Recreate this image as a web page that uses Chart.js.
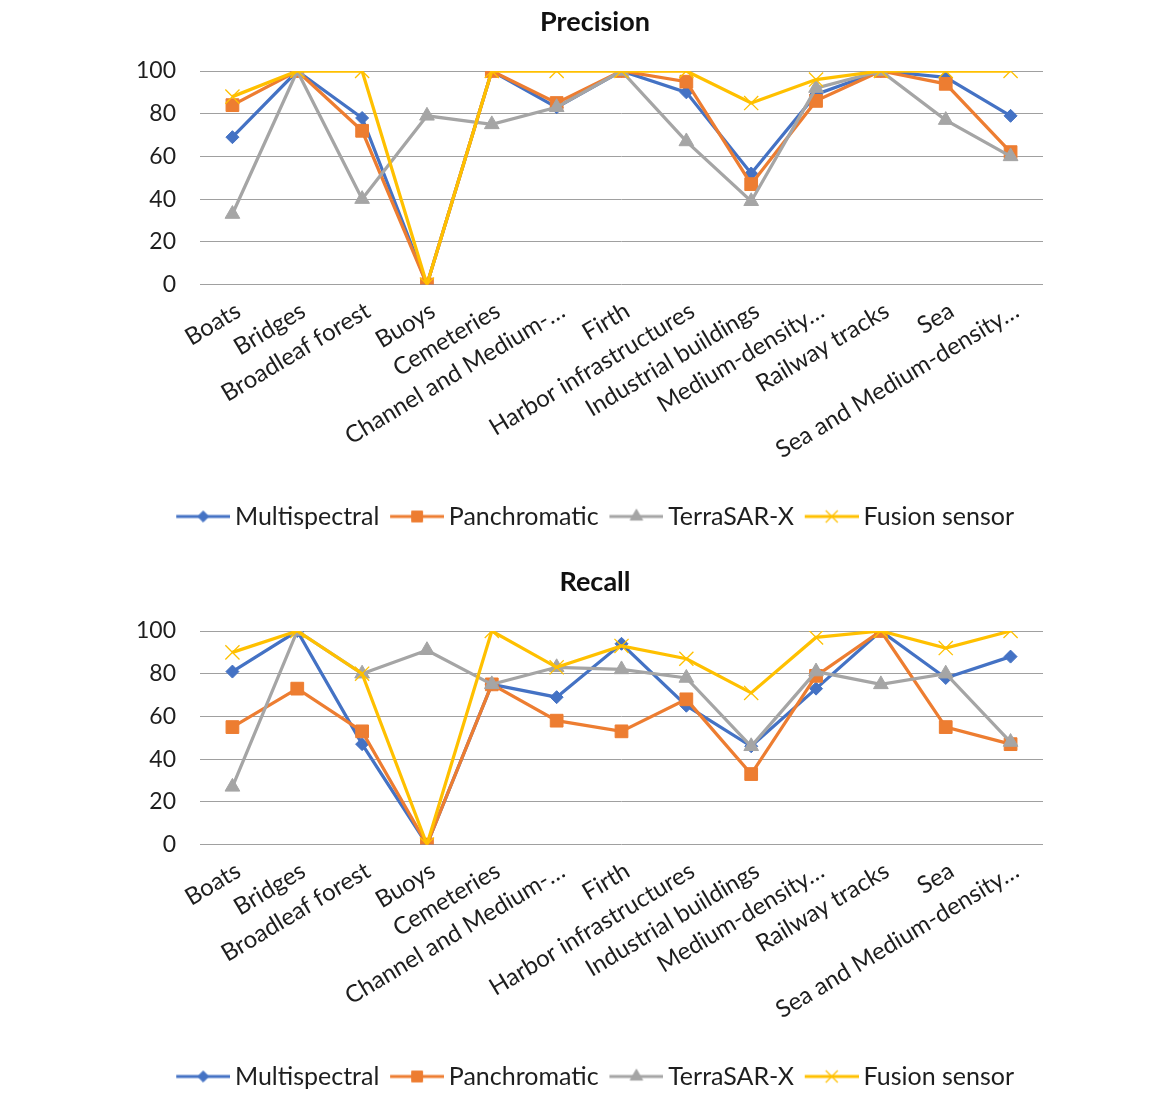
<!DOCTYPE html>
<html><head><meta charset="utf-8">
<script src="https://cdn.jsdelivr.net/npm/chart.js@4.4.0/dist/chart.umd.min.js"></script>
<style>
html,body{margin:0;padding:0;background:#fff;overflow:hidden;width:1166px;height:1093px;}
.wrap{position:absolute;left:0;width:1166px;height:545px;}
</style></head><body>
<div class="wrap" style="top:0"><canvas id="c1"></canvas></div>
<div class="wrap" style="top:560px"><canvas id="c2"></canvas></div>
<script>
const categories = ['Boats','Bridges','Broadleaf forest','Buoys','Cemeteries','Channel and Medium-…','Firth','Harbor infrastructures','Industrial buildings','Medium-density…','Railway tracks','Sea','Sea and Medium-density…'];
const seriesNames = ['Multispectral','Panchromatic','TerraSAR-X','Fusion sensor'];
const yTicks = [0,20,40,60,80,100];

const precisionMultispectral = [69,100,78,0,100,83,100,90,52,89,100,97,79];
const precisionPanchromatic  = [84,100,72,0,100,85,100,95,47,86,100,94,62];
const precisionTerraSAR      = [33,100,40,79,75,83,100,67,39,92,100,77,60];
const precisionFusion        = [88,100,100,0,100,100,100,100,85,96,100,100,100];

const recallMultispectral = [81,100,47,0,75,69,94,65,46,73,100,78,88];
const recallPanchromatic  = [55,73,53,0,75,58,53,68,33,79,100,55,47];
const recallTerraSAR      = [27,100,80,91,75,83,82,78,46,81,75,80,48];
const recallFusion        = [90,100,80,0,100,83,93,87,71,97,100,92,100];

const colors = ['#4472C4','#ED7D31','#A5A5A5','#FFC000'];
const styles = ['rectRot','rect','triangle','crossRot'];
const radii = [6.5,9,8.5,10];
const FONT = 'Lato, "Open Sans", sans-serif';
const TEXT = '#1e1e1e';

// legend sample: line of 54px starting at the item's left edge
function legendIcon(i){
  const c = document.createElement('canvas');
  c.width = 62; c.height = 20;
  const ctx = c.getContext('2d');
  const x0 = 8, x1 = 62, xm = (x0 + x1) / 2;
  ctx.strokeStyle = colors[i]; ctx.lineWidth = 3;
  ctx.beginPath(); ctx.moveTo(x0,10); ctx.lineTo(x1,10); ctx.stroke();
  ctx.fillStyle = colors[i]; ctx.strokeStyle = colors[i];
  ctx.lineWidth = styles[i]==='crossRot' ? 1.3 : 1;
  Chart.helpers.drawPoint(ctx, {pointStyle: styles[i], radius: radii[i]*0.85, rotation: 0, borderWidth: ctx.lineWidth}, xm, 10);
  return c;
}
const icons = [0,1,2,3].map(legendIcon);

function makeChart(id, title, data){
  const datasets = data.map((d,i)=>({
    label: seriesNames[i],
    data: d,
    borderColor: colors[i],
    backgroundColor: colors[i],
    borderWidth: 3.25,
    pointStyle: styles[i],
    pointRadius: radii[i],
    pointHoverRadius: radii[i],
    pointBackgroundColor: colors[i],
    pointBorderColor: colors[i],
    pointBorderWidth: styles[i]==='crossRot' ? 1.3 : 1,
    tension: 0,
    order: 4 - i
  }));
  return new Chart(document.getElementById(id), {
    type: 'line',
    data: { labels: categories, datasets },
    options: {
      responsive: true, maintainAspectRatio: false, animation: false, devicePixelRatio: 1,
      layout: { padding: { left: 24, right: 0, top: 0, bottom: 6 } },
      plugins: {
        tooltip: { enabled: false },
        title: { display: true, text: title, color: '#111', font: { family: FONT, size: 27, weight: 'bold' }, padding: { top: 6, bottom: 32.6 } },
        legend: {
          position: 'bottom',
          labels: {
            usePointStyle: true, pointStyleWidth: 46.5, boxHeight: 20, padding: 10.5,
            color: TEXT, font: { family: FONT, size: 25 },
            generateLabels: (chart) => chart.data.datasets.map((ds, i) => ({
              text: ds.label, pointStyle: icons[i], fillStyle: colors[i], strokeStyle: colors[i],
              lineWidth: 0, hidden: false, datasetIndex: i, fontColor: TEXT
            }))
          }
        }
      },
      scales: {
        x: {
          offset: true,
          grid: { display: false }, border: { display: false },
          ticks: { autoSkip: false, minRotation: 31, maxRotation: 31, color: TEXT, font: { family: FONT, size: 24 }, padding: 4, labelOffset: 6 },
          afterFit: (s) => { s.height = 209; }
        },
        y: {
          min: 0, max: 100,
          afterBuildTicks: (s) => { s.ticks = yTicks.map(v => ({ value: v })); },
          grid: { color: '#a0a0a0', lineWidth: 1, drawTicks: false }, border: { display: false },
          ticks: { color: TEXT, font: { family: FONT, size: 23 }, padding: 24 },
          afterFit: (s) => { s.width = 176; }
        },
        yR: {
          position: 'right', display: true,
          grid: { display: false }, border: { display: false },
          ticks: { display: false },
          afterFit: (s) => { s.width = 123; }
        }
      }
    }
  });
}

makeChart('c1', 'Precision', [precisionMultispectral, precisionPanchromatic, precisionTerraSAR, precisionFusion]);
makeChart('c2', 'Recall', [recallMultispectral, recallPanchromatic, recallTerraSAR, recallFusion]);
</script>
</body></html>
